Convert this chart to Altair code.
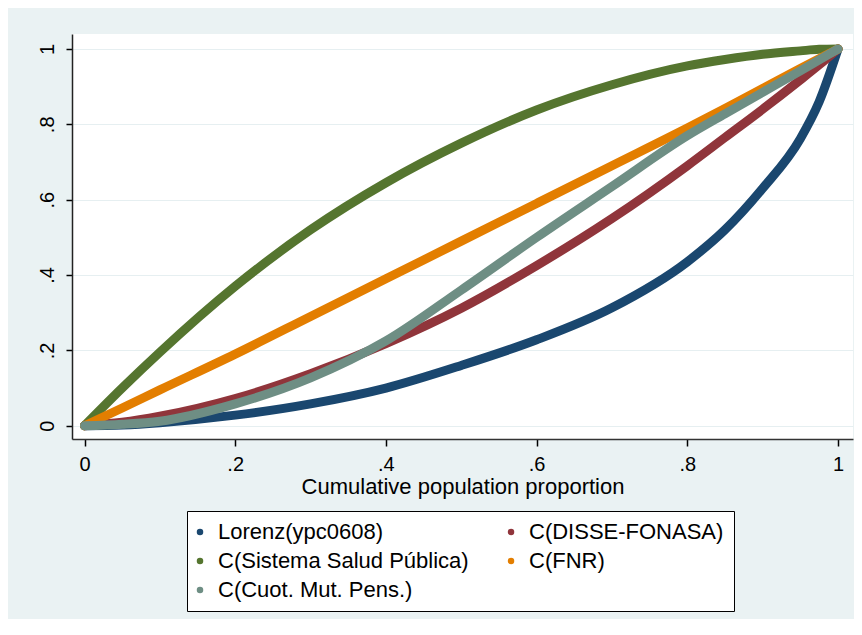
import altair as alt
import pandas as pd

# ---- data ----
pop_share = [0, 0.05, 0.1, 0.2, 0.3, 0.4, 0.5, 0.6, 0.7, 0.8, 0.85, 0.9, 0.95, 0.975, 1.0]

lorenz_ypc = [0, 0.002, 0.008, 0.028, 0.058, 0.10, 0.16, 0.228, 0.313, 0.435, 0.52, 0.63, 0.762, 0.86, 1.0]
c_disse = [0, 0.009, 0.025, 0.072, 0.138, 0.218, 0.312, 0.425, 0.55, 0.69, 0.765, 0.84, 0.918, 0.958, 1.0]
c_sistema = [0, 0.10, 0.195, 0.37, 0.52, 0.645, 0.75, 0.838, 0.905, 0.955, 0.972, 0.986, 0.995, 0.999, 1.0]
c_fnr = [0, 0.047, 0.095, 0.19, 0.29, 0.39, 0.49, 0.59, 0.69, 0.79, 0.842, 0.895, 0.948, 0.974, 1.0]
c_cuot = [0, 0.004, 0.012, 0.058, 0.127, 0.225, 0.36, 0.50, 0.635, 0.77, 0.828, 0.885, 0.942, 0.971, 1.0]

series_names = [
    "Lorenz(ypc0608)",
    "C(DISSE-FONASA)",
    "C(Sistema Salud Pública)",
    "C(FNR)",
    "C(Cuot. Mut. Pens.)",
]
series_values = [lorenz_ypc, c_disse, c_sistema, c_fnr, c_cuot]
series_colors = ["#1A476F", "#90353B", "#55752F", "#E37E00", "#6E8E84"]

x_ticks = [0, 0.2, 0.4, 0.6, 0.8, 1]
y_ticks = [0, 0.2, 0.4, 0.6, 0.8, 1]
x_title = "Cumulative population proportion"

rows = []
for name, ys in zip(series_names, series_values):
    for xv, yv in zip(pop_share, ys):
        rows.append({"p": xv, "c": yv, "serie": name})
df = pd.DataFrame(rows)

FONT = "Liberation Sans"
BG = "#EAF2F3"
label_expr = "datum.value == 0 ? '0' : datum.value >= 1 ? '1' : '.' + round(datum.value * 10)"

legend_color = alt.Color(
    "serie:N",
    scale=alt.Scale(domain=series_names, range=series_colors),
    legend=alt.Legend(
        title=None,
        orient="none",
        legendX=115,
        legendY=477,
        columns=2,
        direction="horizontal",
        symbolType="circle",
        symbolSize=42,
        symbolStrokeWidth=0,
        symbolOpacity=1,
        symbolOffset=-8,
        labelFont=FONT,
        labelFontSize=22,
        labelColor="black",
        labelOffset=7,
        labelLimit=400,
        fillColor="white",
        strokeColor="black",
        padding=10,
        rowPadding=7,
        columnPadding=38,
        cornerRadius=0,
    ),
)
line_stroke = alt.Stroke(
    "serie:N",
    scale=alt.Scale(domain=series_names, range=series_colors),
    legend=None,
)

x_enc = alt.X(
    "p:Q",
    scale=alt.Scale(domain=[-0.0166, 1.0199], nice=False, zero=False),
    axis=alt.Axis(
        values=x_ticks, labelExpr=label_expr, title=x_title, grid=False,
        labelFont=FONT, labelFontSize=20, labelColor="black", labelPadding=8,
        titleFont=FONT, titleFontSize=22, titleFontWeight="normal", titleColor="black",
        titlePadding=2,
        domainColor="#333333", domainWidth=1.5, tickColor="black", tickWidth=1.5, tickSize=7,
        labelFlush=False,
    ),
)
y_enc = alt.Y(
    "c:Q",
    scale=alt.Scale(domain=[-0.0353, 1.0398], nice=False, zero=False),
    axis=alt.Axis(
        values=y_ticks, labelExpr=label_expr, title=None, grid=True,
        gridColor="#E6EFF1", gridWidth=1.2,
        labelFont=FONT, labelFontSize=20, labelColor="black", labelAngle=270,
        labelAlign="center", labelBaseline="bottom", labelPadding=9,
        domainColor="#222222", domainWidth=1.5, tickColor="black", tickWidth=1.5, tickSize=6,
        labelFlush=False,
    ),
)

legend_layer = (
    alt.Chart(df)
    .mark_point(filled=True, opacity=0, size=10)
    .encode(x=x_enc, y=y_enc, color=legend_color)
)

layers = [legend_layer]
for name in series_names:
    layers.append(
        alt.Chart(df)
        .transform_filter(alt.datum.serie == name)
        .mark_line(strokeWidth=9, strokeCap="round", strokeJoin="round", interpolate="monotone")
        .encode(x=x_enc, y=y_enc, stroke=line_stroke, order=alt.Order("p:Q"))
    )

chart = (
    alt.layer(*layers)
    .properties(
        width=781,
        height=405,
        background=BG,
        autosize=alt.AutoSizeParams(type="none"),
        padding={"left": 64, "top": 26, "right": 1, "bottom": 180},
    )
    .configure_view(fill="white", stroke=None)
)

chart.save("out.html", embed_options={"renderer": "svg", "actions": False})
